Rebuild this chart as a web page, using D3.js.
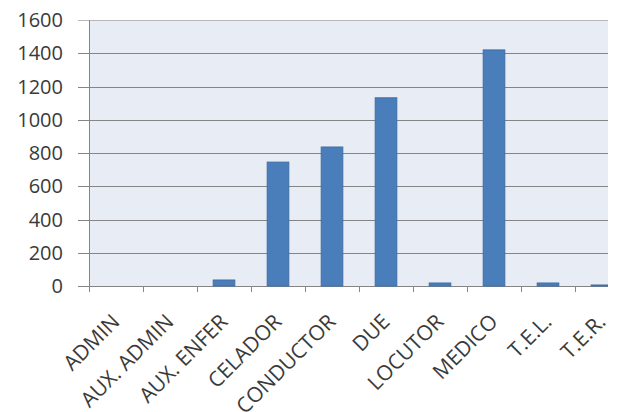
<!DOCTYPE html>
<html>
<head>
<meta charset="utf-8">
<script src="https://cdn.jsdelivr.net/npm/d3@7"></script>
<style>
  body { margin: 0; background: #fff; }
  text { font-family: "Open Sans", sans-serif; fill: #3a3a3a; }
</style>
</head>
<body>
<div id="chart"></div>
<script>
// categories and counts
var categories = ["ADMIN", "AUX. ADMIN", "AUX. ENFER", "CELADOR", "CONDUCTOR",
                  "DUE", "LOCUTOR", "MEDICO", "T.E.L.", "T.E.R."];
var counts = [0, 0, 36, 745, 836, 1132, 18, 1420, 18, 6];
var yTicks = [0, 200, 400, 600, 800, 1000, 1200, 1400, 1600];

var W = 621, H = 412;
var plotLeft = 89, plotTop = 20, plotBottom = 286, plotRight = 608;

var svg = d3.select("#chart").append("svg")
    .attr("width", W)
    .attr("height", H);

// plot area is cut off on the right
svg.append("clipPath")
    .attr("id", "clip")
    .append("rect")
    .attr("x", plotLeft - 12)
    .attr("y", 0)
    .attr("width", plotRight - plotLeft + 12)
    .attr("height", H);

//x scale - band of ~54px each, last one runs past the edge
var x = d3.scaleBand()
    .domain(categories)
    .range([plotLeft, plotLeft + 54 * categories.length])
    .paddingInner(0.6)
    .paddingOuter(0.3);

var y = d3.scaleLinear()
    .domain([0, 1600])
    .range([plotBottom, plotTop]);

var plot = svg.append("g").attr("clip-path", "url(#clip)");

//background
plot.append("rect")
    .attr("x", plotLeft)
    .attr("y", plotTop)
    .attr("width", plotRight - plotLeft)
    .attr("height", plotBottom - plotTop)
    .attr("fill", "#e8ecf4");

//gridlines (with the little tick marks on the left)
plot.append("g")
    .selectAll("line")
    .data(yTicks)
    .enter()
    .append("line")
    .attr("x1", plotLeft - 11)
    .attr("x2", plotRight)
    .attr("y1", function(d) { return Math.round(y(d)) + 0.5; })
    .attr("y2", function(d) { return Math.round(y(d)) + 0.5; })
    .attr("stroke", function(d) { return d === 1600 ? "#b8b8b8" : "#858585"; })
    .attr("stroke-width", 1);

//bars
plot.append("g")
    .selectAll("rect")
    .data(counts)
    .enter()
    .append("rect")
    .attr("x", function(d, i) { return x(categories[i]); })
    .attr("y", function(d) { return y(d); })
    .attr("width", x.bandwidth())
    .attr("height", function(d) { return plotBottom - y(d); })
    .attr("fill", "#4a7ebb")
    .attr("stroke", "#3f6ea6")
    .attr("stroke-width", 1);

//y axis line
plot.append("line")
    .attr("x1", plotLeft + 0.5).attr("x2", plotLeft + 0.5)
    .attr("y1", plotTop).attr("y2", plotBottom + 6)
    .attr("stroke", "#858585");

//x axis tick marks at band edges
var edges = categories.map(function(c) { return x(c) - x.step() * x.paddingInner() / 2; });
plot.append("g")
    .selectAll("line")
    .data(edges.slice(1))
    .enter()
    .append("line")
    .attr("x1", function(d) { return Math.round(d) + 0.5; })
    .attr("x2", function(d) { return Math.round(d) + 0.5; })
    .attr("y1", plotBottom)
    .attr("y2", plotBottom + 6)
    .attr("stroke", "#858585");

//y tick labels
svg.append("g")
    .selectAll("text")
    .data(yTicks)
    .enter()
    .append("text")
    .attr("x", 63)
    .attr("y", function(d) { return y(d); })
    .attr("dy", "0.36em")
    .attr("text-anchor", "end")
    .style("font-size", "20px")
    .text(function(d) { return d; });

//category labels, rotated
svg.append("g")
    .selectAll("text")
    .data(categories)
    .enter()
    .append("text")
    .attr("transform", function(d) {
        var cx = x(d) + x.bandwidth() / 2;
        return "translate(" + (cx + 5) + "," + (plotBottom + 37) + ") rotate(-45)";
    })
    .attr("text-anchor", "end")
    .style("font-size", "21px")
    .text(function(d) { return d; });
</script>
</body>
</html>
